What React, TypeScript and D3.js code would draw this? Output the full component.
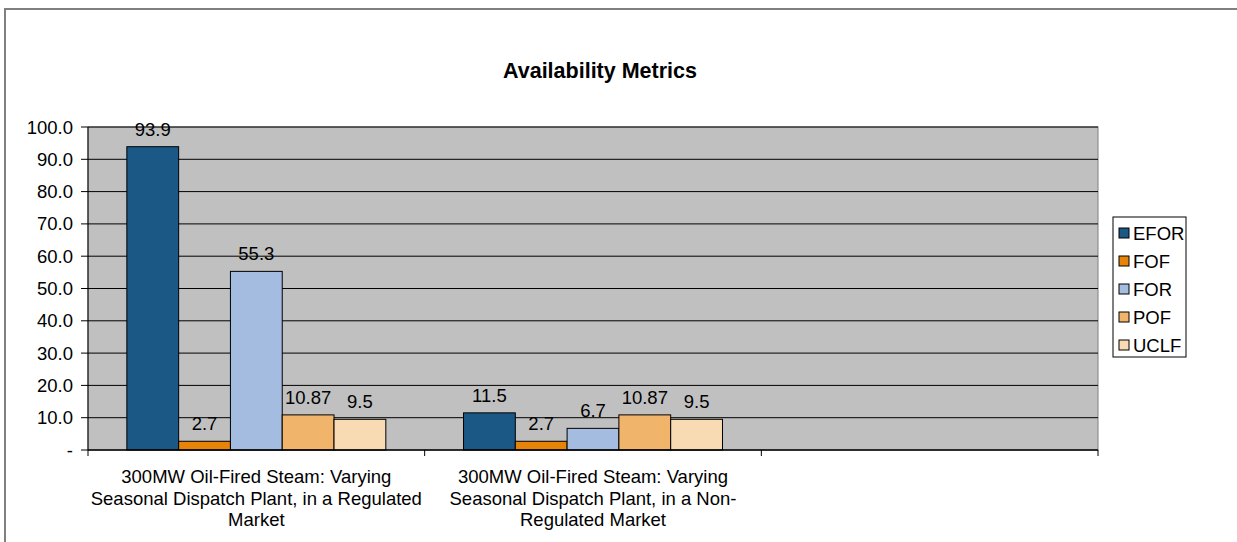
import React from "react";
import * as d3 from "d3";

const categories = [
  ["300MW Oil-Fired Steam: Varying", "Seasonal Dispatch Plant, in a Regulated", "Market"],
  ["300MW Oil-Fired Steam: Varying", "Seasonal Dispatch Plant, in a Non-", "Regulated Market"],
  [""],
];
const seriesNames = ["EFOR", "FOF", "FOR", "POF", "UCLF"];
const seriesColors = ["#1B5886", "#E8830A", "#A4BCE0", "#F0B46A", "#F8DBB3"];
// values per series, one entry per category (third category is empty)
const efor = [93.9, 11.5, null];
const fof = [2.7, 2.7, null];
const forValues = [55.3, 6.7, null];
const pof = [10.87, 10.87, null];
const uclf = [9.5, 9.5, null];
const labelText = [
  ["93.9", "2.7", "55.3", "10.87", "9.5"],
  ["11.5", "2.7", "6.7", "10.87", "9.5"],
];
const yTicks = [0, 10, 20, 30, 40, 50, 60, 70, 80, 90, 100];

const W = 1237;
const H = 542;
const plot = { left: 88, right: 1098, top: 127, bottom: 450 };
const FONT = "'Liberation Sans', Arial, sans-serif";
const FS = 18.5;

export default function App() {
  const values = [efor, fof, forValues, pof, uclf];
  const x = d3
    .scaleBand<number>()
    .domain(d3.range(categories.length))
    .range([plot.left, plot.right]);
  // gap width 150%: each bar = band / 6.5
  const barW = x.bandwidth() / 6.5;
  const groupOffset = barW * 0.75;
  const y = d3.scaleLinear().domain([0, 100]).range([plot.bottom, plot.top]);

  const legendX = 1113;
  const legendY = 217;
  const legendRowH = 28;

  return (
    <svg
      width={W}
      height={H}
      style={{ position: "absolute", left: 0, top: 0 }}
      fontFamily={FONT}
    >
      <rect x={0} y={0} width={W} height={H} fill="#fff" />
      <rect x={5} y={9} width={W + 20} height={H + 20} fill="#fff" stroke="#808080" strokeWidth={2} />
      <text x={600} y={78} textAnchor="middle" fontSize={21.5} fontWeight="bold" fill="#000">
        Availability Metrics
      </text>

      {/* plot area */}
      <rect
        x={plot.left}
        y={plot.top}
        width={plot.right - plot.left}
        height={plot.bottom - plot.top}
        fill="#C0C0C0"
        stroke="#808080"
        strokeWidth={1}
      />
      {yTicks.map((t) => (
        <g key={t}>
          {t > 0 && (
            <line x1={plot.left} x2={plot.right} y1={y(t)} y2={y(t)} stroke="#000" strokeWidth={1} />
          )}
          <line x1={plot.left - 7} x2={plot.left} y1={y(t)} y2={y(t)} stroke="#000" strokeWidth={1} />
          <text x={73} y={y(t) + 6.5} textAnchor="end" fontSize={FS} fill="#000">
            {t === 0 ? "-" : t.toFixed(1)}
          </text>
        </g>
      ))}

      {/* bars */}
      {categories.map((_, ci) =>
        values.map((s, si) => {
          const v = s[ci];
          if (v == null) return null;
          const bx = (x(ci) as number) + groupOffset + si * barW;
          return (
            <g key={`${ci}-${si}`}>
              <rect
                x={bx}
                y={y(v)}
                width={barW}
                height={plot.bottom - y(v)}
                fill={seriesColors[si]}
                stroke="#000"
                strokeWidth={1}
              />
              <text
                x={bx + barW / 2}
                y={y(v) - 11}
                textAnchor="middle"
                fontSize={FS}
                fill="#000"
              >
                {labelText[ci][si]}
              </text>
            </g>
          );
        })
      )}

      {/* axes */}
      <line x1={plot.left} x2={plot.left} y1={plot.top} y2={plot.bottom} stroke="#000" strokeWidth={1} />
      <line x1={plot.left} x2={plot.right} y1={plot.bottom} y2={plot.bottom} stroke="#000" strokeWidth={1.5} />
      {d3.range(categories.length + 1).map((i) => {
        const tx = plot.left + i * x.bandwidth();
        return <line key={i} x1={tx} x2={tx} y1={plot.bottom} y2={plot.bottom + 6} stroke="#000" />;
      })}

      {/* category labels */}
      {categories.map((lines, ci) => (
        <text
          key={ci}
          x={(x(ci) as number) + x.bandwidth() / 2}
          textAnchor="middle"
          fontSize={FS}
          fill="#000"
        >
          {lines.map((l, li) => (
            <tspan key={li} x={(x(ci) as number) + x.bandwidth() / 2} y={483 + li * 21.5}>
              {l}
            </tspan>
          ))}
        </text>
      ))}

      {/* legend */}
      <rect x={legendX} y={legendY} width={73} height={140} fill="#fff" stroke="#000" strokeWidth={1} />
      {seriesNames.map((n, i) => {
        const cy = legendY + 16 + i * legendRowH;
        return (
          <g key={n}>
            <rect x={legendX + 6} y={cy - 5} width={10} height={10} fill={seriesColors[i]} stroke="#000" />
            <text x={legendX + 20} y={cy + 6.5} fontSize={FS} fill="#000">
              {n}
            </text>
          </g>
        );
      })}
    </svg>
  );
}
